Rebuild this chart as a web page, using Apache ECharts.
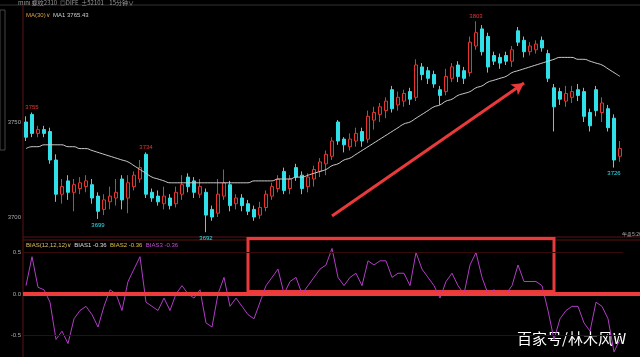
<!DOCTYPE html>
<html><head><meta charset="utf-8">
<style>html,body{margin:0;padding:0;background:#000;}#c{width:640px;height:357px;}</style>
<script src="https://cdn.jsdelivr.net/npm/echarts@6/dist/echarts.min.js"></script>
</head><body><div id="c"></div>
<script>
// OHLC arrays (open, close, low, high) per 15-minute bar
const opens  = [3750,3754,3744,3746,3745,3730,3712,3719,3713,3715,3716,3717,3711,3704,3708,3710,3720,3710,3716,3720,
                3733,3713,3711,3707,3710,3707,3712,3721,3719,3712,3713,3704,3702,3711,3717,3707,3710,3707,3704,3701,
                3705,3711,3715,3724,3715,3726,3722,3716,3720,3724,3728,3732,3750,3741,3737,3740,3745,3741,3751,3754,
                3756,3767,3759,3761,3766,3763,3779,3777,3775,3767,3766,3773,3780,3777,3776,3790,3799,3795,3785,3784,
                3785,3782,3798,3793,3787,3788,3793,3786,3768,3766,3761,3763,3767,3766,3755,3767,3755,3757,3752,3732];
const closes = [3742,3744,3746,3744,3730,3712,3716,3713,3717,3718,3719,3710,3703,3709,3711,3713,3709,3718,3722,3726,
                3712,3710,3708,3711,3706,3713,3717,3716,3713,3716,3701,3700,3712,3718,3706,3710,3706,3703,3700,3705,
                3712,3716,3720,3714,3720,3721,3715,3721,3725,3729,3733,3740,3740,3738,3741,3744,3740,3753,3755,3758,
                3761,3757,3763,3765,3762,3780,3775,3773,3770,3764,3774,3779,3774,3773,3792,3797,3787,3779,3782,3781,
                3782,3788,3792,3787,3790,3791,3789,3773,3758,3762,3765,3766,3764,3753,3748,3756,3760,3747,3730,3736];
const lows   = [3740,3742,3742,3742,3728,3708,3707,3709,3703,3712,3713,3707,3699,3701,3704,3706,3704,3702,3714,3718,
                3710,3708,3706,3704,3704,3705,3709,3713,3710,3710,3692,3698,3700,3709,3703,3704,3703,3701,3698,3699,
                3703,3709,3713,3712,3712,3719,3712,3713,3716,3721,3722,3730,3738,3734,3735,3737,3737,3739,3746,3750,
                3752,3755,3756,3758,3759,3761,3772,3770,3768,3759,3764,3771,3771,3770,3774,3788,3785,3776,3780,3778,
                3780,3779,3790,3784,3785,3786,3787,3771,3745,3759,3758,3760,3761,3750,3745,3753,3750,3745,3726,3729];
const highs  = [3753,3755,3748,3748,3747,3733,3720,3722,3720,3721,3722,3720,3713,3712,3716,3720,3722,3722,3724,3730,
                3734,3715,3714,3716,3712,3716,3722,3723,3721,3720,3715,3706,3720,3725,3719,3712,3712,3709,3706,3708,
                3714,3718,3722,3726,3722,3728,3724,3723,3727,3731,3735,3742,3751,3742,3744,3747,3747,3756,3758,3760,
                3763,3769,3766,3767,3768,3783,3781,3779,3777,3769,3778,3781,3782,3779,3795,3803,3801,3797,3787,3786,
                3787,3790,3800,3795,3792,3793,3795,3788,3770,3768,3769,3769,3770,3768,3757,3769,3763,3759,3754,3740];
// MA(30)
const ma30 = [3736,3737,3737,3738,3738,3738,3738,3737,3737,3736,3736,3735,3734,3733,3732,3731,3730,3729,3727,3725,
              3723,3721,3720,3719,3718,3718,3718,3718,3718,3718,3718,3718,3718,3718,3718,3718,3718,3718,3719,3719,
              3719,3719,3720,3720,3720,3721,3721,3722,3723,3724,3725,3727,3728,3730,3731,3733,3735,3737,3739,3741,
              3743,3745,3747,3749,3750,3752,3754,3756,3758,3759,3761,3762,3764,3765,3766,3768,3769,3771,3772,3773,
              3774,3776,3777,3778,3779,3780,3781,3782,3783,3784,3784,3784,3783,3783,3782,3781,3780,3778,3776,3774];
// BIAS(12)
const bias = [0.10,0.45,0.08,0.05,-0.10,-0.55,-0.45,-0.60,-0.30,-0.20,-0.15,-0.25,-0.40,-0.15,0.05,0.00,-0.20,0.15,0.30,0.45,
              -0.10,-0.15,-0.20,-0.05,-0.20,0.00,0.10,0.00,-0.05,0.05,-0.35,-0.40,0.00,0.20,-0.15,-0.05,-0.15,-0.25,-0.30,-0.10,
              0.10,0.20,0.30,0.00,0.15,0.20,0.00,0.10,0.20,0.30,0.35,0.55,0.20,0.10,0.20,0.25,0.10,0.40,0.35,0.40,
              0.40,0.20,0.25,0.25,0.10,0.50,0.30,0.20,0.10,-0.05,0.15,0.25,0.10,0.00,0.35,0.50,0.20,0.00,0.05,0.00,
              0.00,0.10,0.35,0.15,0.15,0.15,0.10,-0.20,-0.55,-0.30,-0.20,-0.15,-0.15,-0.35,-0.45,-0.10,-0.15,-0.30,-0.70,-0.55];
const priceTicks = [3700, 3750];
const biasTicks = [0.5, 0, -0.5];
const hiLabels = [[1,3755],[20,3734],[75,3803]];
const loLabels = [[12,3699],[30,3692],[98,3726]];

const cats = opens.map((_, i) => i);
const kdata = opens.map((o, i) => [o, closes[i], lows[i], highs[i]]);

const chart = echarts.init(document.getElementById('c'), null, {renderer:'canvas'});
const RED = '#e8332f', CYAN = '#2fe0e8', DARK = '#5a1212';
chart.setOption({
  backgroundColor: '#000',
  animation: false,
  grid: [
    {left: 23, width: 600, top: 8, height: 228},
    {left: 23, width: 600, top: 236, height: 120}
  ],
  xAxis: [
    {type:'category', data: cats, gridIndex:0, boundaryGap:true, axisLine:{show:false}, axisTick:{show:false}, axisLabel:{show:false}, splitLine:{show:false}},
    {type:'category', data: cats, gridIndex:1, boundaryGap:true, axisLine:{show:false}, axisTick:{show:false}, axisLabel:{show:false}, splitLine:{show:false}}
  ],
  yAxis: [
    {type:'value', gridIndex:0, min:3690, max:3810, interval:10, axisLine:{show:false}, axisTick:{show:false},
     axisLabel:{fontSize:6, color:'#aaa', margin:2, formatter:v => priceTicks.includes(v) ? String(v) : ''},
     splitLine:{show:false}},
    {type:'value', gridIndex:1, min:-0.75, max:0.7, interval:0.05, axisLine:{show:false}, axisTick:{show:false},
     axisLabel:{fontSize:6, color:'#aaa', margin:2, formatter:v => {const r = Math.round(v*100)/100; return biasTicks.includes(r) ? r.toFixed(1) : '';}},
     splitLine:{show:false}}
  ],
  series: [
    {type:'candlestick', xAxisIndex:0, yAxisIndex:0, data:kdata, barWidth:4,
     itemStyle:{color:'#000', color0:CYAN, borderColor:RED, borderColor0:CYAN, borderWidth:1},
     markPoint:{symbol:'circle', symbolSize:0, silent:true,
       data: hiLabels.map(d => ({coord:d, value:d[1], label:{show:true, position:'top', distance:2, color:RED, fontSize:6, formatter:String(d[1])}}))
         .concat(loLabels.map(d => ({coord:d, value:d[1], label:{show:true, position:'bottom', distance:3, color:CYAN, fontSize:6, formatter:String(d[1])}})))},
     markLine:{silent:true, symbol:['none','arrow'], symbolSize:[10,12],
       lineStyle:{color:'#e83a3a', width:3, type:'solid'}, label:{show:false},
       data:[[{coord:[51,3700.5]},{coord:[83,3770.5]}]]}
    },
    {type:'line', xAxisIndex:0, yAxisIndex:0, data:ma30, symbol:'none', smooth:true, lineStyle:{color:'#c9c9c9', width:1}},
    {type:'line', xAxisIndex:1, yAxisIndex:1, data:bias, symbol:'none', lineStyle:{color:'#b23cc6', width:1},
     markLine:{silent:true, symbol:['none','none'], label:{show:false},
       data:[{yAxis:0.5, lineStyle:{color:'#3a0a0a', width:1, type:'solid'}},
             {yAxis:-0.5, lineStyle:{color:'#3a0a0a', width:1, type:'solid'}}]},
     markArea:{silent:true, itemStyle:{color:'rgba(0,0,0,0)', borderColor:'#e83a3a', borderWidth:3},
       data:[[{coord:[37,0.03]},{coord:[88,0.67]}]]}
    },
    {type:'line', xAxisIndex:1, yAxisIndex:1, data:[], markLine:{silent:true, symbol:['none','none'], label:{show:false},
       data:[{yAxis:0, lineStyle:{color:'#ee3c3c', width:4, type:'solid'}}]}}
  ],
  graphic: [
    {type:'line', shape:{x1:23,y1:5,x2:23,y2:357}, style:{stroke:DARK, lineWidth:1}},
    {type:'line', shape:{x1:0,y1:5,x2:640,y2:5}, style:{stroke:'#333', lineWidth:1}},
    {type:'line', shape:{x1:23,y1:237,x2:640,y2:237}, style:{stroke:DARK, lineWidth:1}},
    {type:'line', shape:{x1:23,y1:240,x2:640,y2:240}, style:{stroke:DARK, lineWidth:1}},
    {type:'rect', shape:{x:0,y:10,width:5,height:140}, style:{stroke:'#444', fill:'none', lineWidth:1}},
    {type:'line', shape:{x1:294,y1:294,x2:640,y2:294}, style:{stroke:'#ee3c3c', lineWidth:4}},
    {type:'text', left:18, top:0, style:{text:'mini 螺纹2310  ◎DIFE  ±52101    15分钟∨', fill:'#9a9a9a', fontSize:6, fontFamily:'Noto Sans CJK SC'}},
    {type:'text', left:26, top:9, style:{rich:{a:{fill:'#e0a040', fontSize:6},b:{fill:'#cfcfcf', fontSize:6}}, text:'{a|MA(30)∨} {b|MA1 3765.43}'}},
    {type:'text', left:26, top:239, style:{rich:{a:{fill:'#e0c060', fontSize:6},b:{fill:'#dddddd', fontSize:6},c:{fill:'#e0c040', fontSize:6},d:{fill:'#c050d0', fontSize:6}},
       text:'{a|BIAS(12,12,12)∨} {b|BIAS1 -0.36} {c|BIAS2 -0.36} {d|BIAS3 -0.36}'}},
    {type:'text', left:622, top:232, style:{text:'午盘5:26', fill:'#aaa', fontSize:5}},
    {type:'text', left:517, top:331, style:{text:'百家号/林木风W', fill:'#ffffff', fontSize:15, fontFamily:'Noto Sans CJK SC'}}
  ]
});
</script></body></html>
